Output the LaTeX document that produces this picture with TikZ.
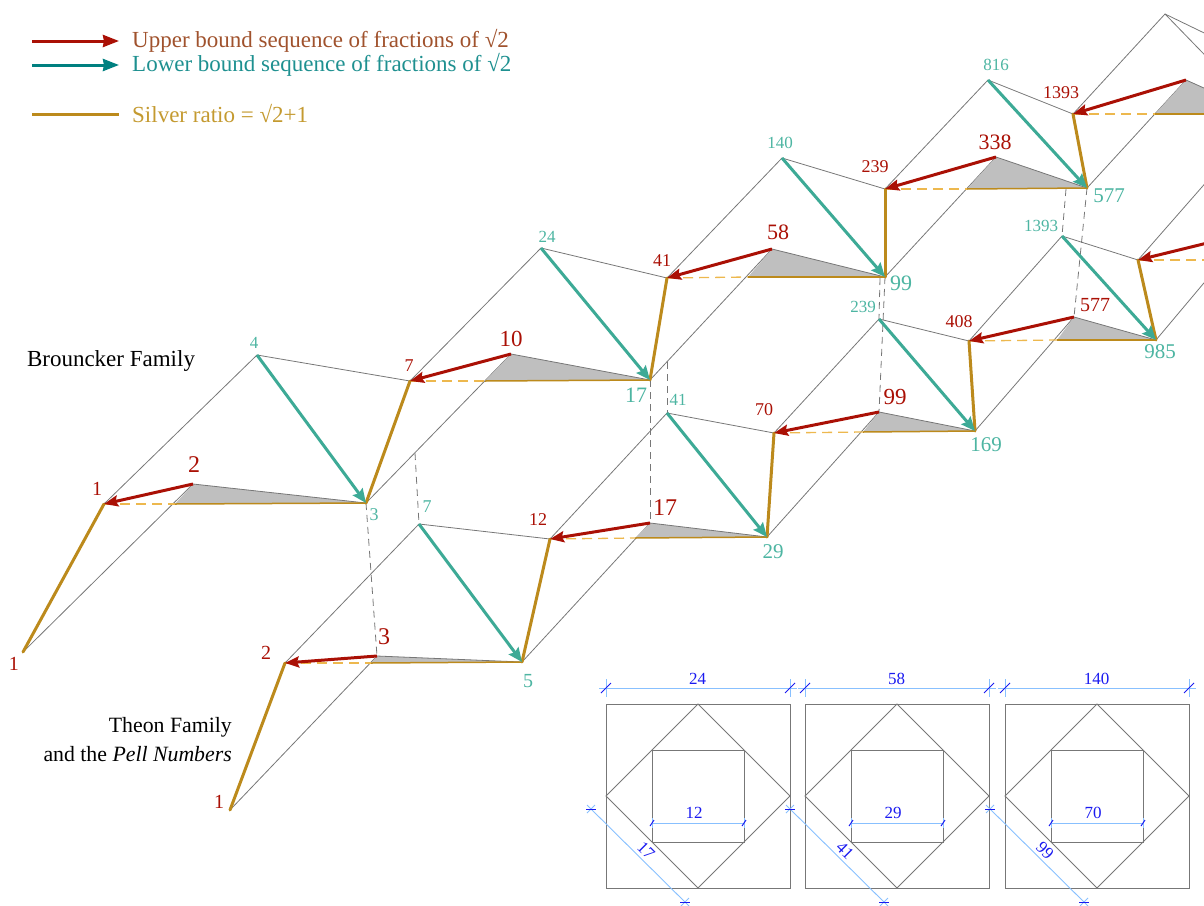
\documentclass[tikz,border=0pt]{standalone}
\usepackage{fontspec}
\setmainfont{Liberation Serif}
\usetikzlibrary{arrows.meta}
\definecolor{rd}{HTML}{AA1005}
\definecolor{tl}{HTML}{3DAA96}
\definecolor{tltx}{HTML}{4DB5A2}
\definecolor{gd}{HTML}{BC8A1C}
\definecolor{gdd}{HTML}{EDB84E}
\definecolor{thin}{HTML}{777777}
\definecolor{dimc}{HTML}{88C0FF}
\definecolor{dimt}{HTML}{1A1AF0}
\definecolor{lbrown}{HTML}{A0522D}
\definecolor{lteal}{HTML}{1E9090}
\definecolor{lgold}{HTML}{C49A30}
\tikzset{
 thinl/.style={draw=thin,line width=0.8pt},
 vdash/.style={draw=thin,line width=0.8pt,dash pattern=on 7pt off 5pt},
 golds/.style={draw=gd,line width=3pt,line cap=round},
 goldb/.style={draw=gd,line width=1.5pt},
 goldd/.style={draw=gdd,line width=1.3pt,dash pattern=on 10pt off 6pt},
 upper/.style={draw=rd,line width=3pt,-{Stealth[length=14pt,width=11pt,inset=2pt]}},
 lower/.style={draw=tl,line width=3pt,-{Stealth[length=14pt,width=12pt,inset=2pt]}},
 rl/.style={text=rd,inner sep=0pt,font=\fontsize{#1}{#1}\selectfont},
 tt/.style={text=tltx,inner sep=0pt,font=\fontsize{#1}{#1}\selectfont},
 bk/.style={text=black,inner sep=0pt,align=right,font=\fontsize{21.8}{29}\selectfont},
 leg/.style={anchor=west,inner sep=0pt,font=\fontsize{23}{24}\selectfont},
 box/.style={draw=thin,line width=0.95pt},
 dimln/.style={draw=dimc,line width=0.9pt},
 dimtk/.style={draw=dimt,line width=1pt},
 diml/.style={text=dimt,inner sep=0pt,font=\fontsize{17}{17}\selectfont}
}
\begin{document}
\begin{tikzpicture}[x=1pt,y=-1pt]
\useasboundingbox (0,0) rectangle (1204,905);
\clip (0,0) rectangle (1204,905);
% Brouncker points
\coordinate (bA) at (23,652);
\coordinate (b1) at (104,504);
\coordinate (b2s) at (175,504);
\coordinate (b2) at (193,484);
\coordinate (b4) at (257,355);
\coordinate (b3) at (366,503);
\coordinate (b7) at (410,381);
\coordinate (b10s) at (485,381);
\coordinate (b10) at (511,354);
\coordinate (b24) at (541,248);
\coordinate (b17) at (650,380);
\coordinate (b41) at (667,278);
\coordinate (b58s) at (748,277);
\coordinate (b58) at (772,249);
\coordinate (b140) at (782,158);
\coordinate (b99) at (885,277);
\coordinate (b239) at (885,189);
\coordinate (b338s) at (967,189);
\coordinate (b338) at (996,157);
\coordinate (b816) at (988,80);
\coordinate (b577) at (1087,188);
\coordinate (b1393) at (1073,114);
\coordinate (bxs) at (1155,114);
\coordinate (bx) at (1186,80);
\coordinate (btop) at (1165,14);
\coordinate (bxe) at (1262,114);
\coordinate (btr) at (1262,61);
\coordinate (bbr) at (1262,114);
% Theon points
\coordinate (tA) at (230,810);
\coordinate (t2) at (285,663);
\coordinate (t3s) at (371,663);
\coordinate (t3) at (377,656);
\coordinate (t7) at (419,524);
\coordinate (t5) at (522,662);
\coordinate (t12) at (550,539);
\coordinate (t17s) at (635,538);
\coordinate (t17) at (650,523);
\coordinate (t41) at (667,413);
\coordinate (t29) at (767,537);
\coordinate (t70) at (774,433);
\coordinate (t99s) at (863,432);
\coordinate (t99) at (879,412);
\coordinate (t239) at (879,319);
\coordinate (t408) at (969,341);
\coordinate (t169) at (975,431);
\coordinate (t577s) at (1057,340);
\coordinate (t577) at (1074,317);
\coordinate (t1393) at (1062,236);
\coordinate (t985) at (1156,340);
\coordinate (tn) at (1138,260);
\coordinate (tnr) at (1230,155);
\coordinate (tne) at (1240,260);
\coordinate (tnu) at (1240,235);
\coordinate (t985u) at (1240,240);
% dashed start points
\coordinate (d7) at (415,453);
\coordinate (d41) at (667,362);
\coordinate (d239) at (880,278);
\coordinate (d1393) at (1066,189);
% thin lines
\draw[thinl] (bA) -- (b2);
\draw[thinl] (b1) -- (b4) -- (b7) -- (b24) -- (b41) -- (b140) -- (b239) -- (b816) -- (b1393) -- (btop) -- (btr);
\draw[thinl] (btop) -- (bbr);
\draw[thinl] (b3) -- (b10);
\draw[thinl] (b17) -- (b58);
\draw[thinl] (b99) -- (b338);
\draw[thinl] (b577) -- (bx);
\draw[thinl] (tA) -- (t3);
\draw[thinl] (t2) -- (t7) -- (t12) -- (t41) -- (t70) -- (t239) -- (t408) -- (t1393) -- (tn) -- (tnr);
\draw[thinl] (t5) -- (t17);
\draw[thinl] (t29) -- (t99);
\draw[thinl] (t169) -- (t577);
\draw[thinl] (t985) -- (t985u);
% dashed verticals
\draw[vdash] (b3) -- (t3);
\draw[vdash] (d7) -- (t7);
\draw[vdash] (b17) -- (t17);
\draw[vdash] (d41) -- (t41);
\draw[vdash] (d239) -- (t239);
\draw[vdash] (b99) -- (t99);
\draw[vdash] (d1393) -- (t1393);
\draw[vdash] (b577) -- (t577);
% shaded triangles
\fill[black!25] (b2s) -- (b2) -- (b3) -- cycle;
\draw[thinl] (b2) -- (b3);
\fill[black!25] (b10s) -- (b10) -- (b17) -- cycle;
\draw[thinl] (b10) -- (b17);
\fill[black!25] (b58s) -- (b58) -- (b99) -- cycle;
\draw[thinl] (b58) -- (b99);
\fill[black!25] (b338s) -- (b338) -- (b577) -- cycle;
\draw[thinl] (b338) -- (b577);
\fill[black!25] (bxs) -- (bx) -- (bxe) -- cycle;
\draw[thinl] (bx) -- (bxe);
\fill[black!25] (t3s) -- (t3) -- (t5) -- cycle;
\draw[thinl] (t3) -- (t5);
\fill[black!25] (t17s) -- (t17) -- (t29) -- cycle;
\draw[thinl] (t17) -- (t29);
\fill[black!25] (t99s) -- (t99) -- (t169) -- cycle;
\draw[thinl] (t99) -- (t169);
\fill[black!25] (t577s) -- (t577) -- (t985) -- cycle;
\draw[thinl] (t577) -- (t985);
% horizontal gold
\draw[goldd] (b1) -- (b2s);
\draw[goldb] (b2s) -- (b3);
\draw[goldd] (b7) -- (b10s);
\draw[goldb] (b10s) -- (b17);
\draw[goldd] (b41) -- (b58s);
\draw[goldb] (b58s) -- (b99);
\draw[goldd] (b239) -- (b338s);
\draw[goldb] (b338s) -- (b577);
\draw[goldd] (b1393) -- (bxs);
\draw[goldb] (bxs) -- (bxe);
\draw[goldd] (t2) -- (t3s);
\draw[goldb] (t3s) -- (t5);
\draw[goldd] (t12) -- (t17s);
\draw[goldb] (t17s) -- (t29);
\draw[goldd] (t70) -- (t99s);
\draw[goldb] (t99s) -- (t169);
\draw[goldd] (t408) -- (t577s);
\draw[goldb] (t577s) -- (t985);
\draw[goldd] (tn) -- (tne);
% gold ratio lines
\draw[golds] (bA) -- (b1);
\draw[golds] (b3) -- (b7);
\draw[golds] (b17) -- (b41);
\draw[golds] (b99) -- (b239);
\draw[golds] (b577) -- (b1393);
\draw[golds] (tA) -- (t2);
\draw[golds] (t5) -- (t12);
\draw[golds] (t29) -- (t70);
\draw[golds] (t169) -- (t408);
\draw[golds] (t985) -- (tn);
% lower bound arrows
\draw[lower] (b4) -- (b3);
\draw[lower] (b24) -- (b17);
\draw[lower] (b140) -- (b99);
\draw[lower] (b816) -- (b577);
\draw[lower] (t7) -- (t5);
\draw[lower] (t41) -- (t29);
\draw[lower] (t239) -- (t169);
\draw[lower] (t1393) -- (t985);
% upper bound arrows
\draw[upper] (b2) -- (b1);
\draw[upper] (b10) -- (b7);
\draw[upper] (b58) -- (b41);
\draw[upper] (b338) -- (b239);
\draw[upper] (bx) -- (b1393);
\draw[upper] (t3) -- (t2);
\draw[upper] (t17) -- (t12);
\draw[upper] (t99) -- (t70);
\draw[upper] (t577) -- (t408);
\draw[upper] (tnu) -- (tn);
% red labels
\node[rl=20] (la1) at (97,489) {1};
\node[rl=20] (la1b) at (14,664) {1};
\node[rl=24] (la2) at (194,465) {2};
\node[rl=18] (la7) at (409,366) {7};
\node[rl=23] (la10) at (511,339) {10};
\node[rl=18] (la41) at (662,261) {41};
\node[rl=22] (la58) at (778,232) {58};
\node[rl=18] (la239) at (875,167) {239};
\node[rl=22] (la338) at (995,142) {338};
\node[rl=18] (la1393) at (1061,93) {1393};
\node[rl=20] (lb1) at (219,802) {1};
\node[rl=20] (lb2) at (266,653) {2};
\node[rl=24] (lb3) at (384,637) {3};
\node[rl=18] (lb12) at (538,520) {12};
\node[rl=24] (lb17) at (665,508) {17};
\node[rl=18] (lb70) at (764,410) {70};
\node[rl=23] (lb99) at (895,397) {99};
\node[rl=18] (lb408) at (959,322) {408};
\node[rl=20] (lb577) at (1095,305) {577};
% teal labels
\node[tt=17] (ma4) at (254,343) {4};
\node[tt=18] (ma3) at (374,515) {3};
\node[tt=17] (ma24) at (547,237) {24};
\node[tt=22] (ma17) at (636,395) {17};
\node[tt=17] (ma140) at (780,143) {140};
\node[tt=22] (ma99) at (901,283) {99};
\node[tt=17] (ma816) at (996,65) {816};
\node[tt=21] (ma577) at (1109,196) {577};
\node[tt=18] (mb7) at (427,507) {7};
\node[tt=20] (mb5) at (528,681) {5};
\node[tt=17] (mb41) at (678,400) {41};
\node[tt=21] (mb29) at (773,552) {29};
\node[tt=17] (mb239) at (863,307) {239};
\node[tt=21] (mb169) at (986,445) {169};
\node[tt=17] (mb1393) at (1041,226) {1393};
\node[tt=21] (mb985) at (1160,352) {985};
% family labels
\node[bk,font=\fontsize{23}{29}\selectfont] (fam1) at (111,361) {Brouncker Family};
\node[bk,anchor=east] (fam2) at (232,740) {Theon Family\\and the \textit{Pell Numbers}};
% legend
\coordinate (l1a) at (32,41); \coordinate (l1b) at (119,41);
\coordinate (l2a) at (32,65); \coordinate (l2b) at (119,65);
\coordinate (l3a) at (32,114); \coordinate (l3b) at (119,114);
\draw[draw=rd,line width=3pt,-{Stealth[length=16pt,width=12pt,inset=1pt]}] (l1a) -- (l1b);
\draw[draw=teal,line width=3pt,-{Stealth[length=16pt,width=12pt,inset=1pt]}] (l2a) -- (l2b);
\draw[draw=gd,line width=3pt] (l3a) -- (l3b);
\node[leg,text=lbrown] (t1) at (132,41) {Upper bound sequence of fractions of √2};
\node[leg,text=lteal] (t2l) at (132,65) {Lower bound sequence of fractions of √2};
\node[leg,text=lgold] (t3l) at (132,114) {Silver ratio = √2+1};
% squares
\foreach \i/\x/\a/\b/\c in {1/606/24/12/17,2/805/58/29/41,3/1005/140/70/99}{
  \coordinate (nw\i) at (\x,704);
  \coordinate (se\i) at ({\x+184},888);
  \coordinate (n\i) at ({\x+92},704);
  \coordinate (e\i) at ({\x+184},796);
  \coordinate (s\i) at ({\x+92},888);
  \coordinate (w\i) at (\x,796);
  \coordinate (inw\i) at ({\x+46},750);
  \coordinate (ise\i) at ({\x+138},842);
  \draw[box] (nw\i) rectangle (se\i);
  \draw[box] (n\i) -- (e\i) -- (s\i) -- (w\i) -- cycle;
  \draw[box] (inw\i) rectangle (ise\i);
  \coordinate (da\i) at (\x,688);
  \coordinate (db\i) at ({\x+184},688);
  \draw[dimln] ([shift={(-7,0)}]da\i) -- ([shift={(7,0)}]db\i);
  \draw[dimln] ([shift={(0,-9)}]da\i) -- ([shift={(0,9)}]da\i);
  \draw[dimln] ([shift={(0,-9)}]db\i) -- ([shift={(0,9)}]db\i);
  \draw[dimtk] ([shift={(-5,5)}]da\i) -- ([shift={(5,-5)}]da\i);
  \draw[dimtk] ([shift={(-5,5)}]db\i) -- ([shift={(5,-5)}]db\i);
  \node[diml] (ta\i) at ({\x+91.5},679) {\a};
  \coordinate (ia\i) at ({\x+46},823);
  \coordinate (ib\i) at ({\x+138},823);
  \draw[dimln] (ia\i) -- (ib\i);
  \draw[dimln] ([shift={(0,-5)}]ia\i) -- ([shift={(0,5)}]ia\i);
  \draw[dimln] ([shift={(0,-5)}]ib\i) -- ([shift={(0,5)}]ib\i);
  \draw[dimtk] ([shift={(-2,3)}]ia\i) -- ([shift={(2,-3)}]ia\i);
  \draw[dimtk] ([shift={(-2,3)}]ib\i) -- ([shift={(2,-3)}]ib\i);
  \node[diml] (tb\i) at ({\x+88},813) {\b};
  \coordinate (ga\i) at ({\x-15},809);
  \coordinate (gb\i) at ({\x+79},902);
  \draw[dimln] ([shift={(-4,-4)}]ga\i) -- ([shift={(4,4)}]gb\i);
  \draw[dimln] ([shift={(-4,4)}]ga\i) -- ([shift={(4,-4)}]ga\i);
  \draw[dimln] ([shift={(-4,4)}]gb\i) -- ([shift={(4,-4)}]gb\i);
  \draw[dimtk] ([shift={(-5,0)}]ga\i) -- ([shift={(5,0)}]ga\i);
  \draw[dimtk] ([shift={(-5,0)}]gb\i) -- ([shift={(5,0)}]gb\i);
  \node[diml,rotate=-45] (tc\i) at ({\x+40},851) {\c};
}
\end{tikzpicture}
\end{document}
